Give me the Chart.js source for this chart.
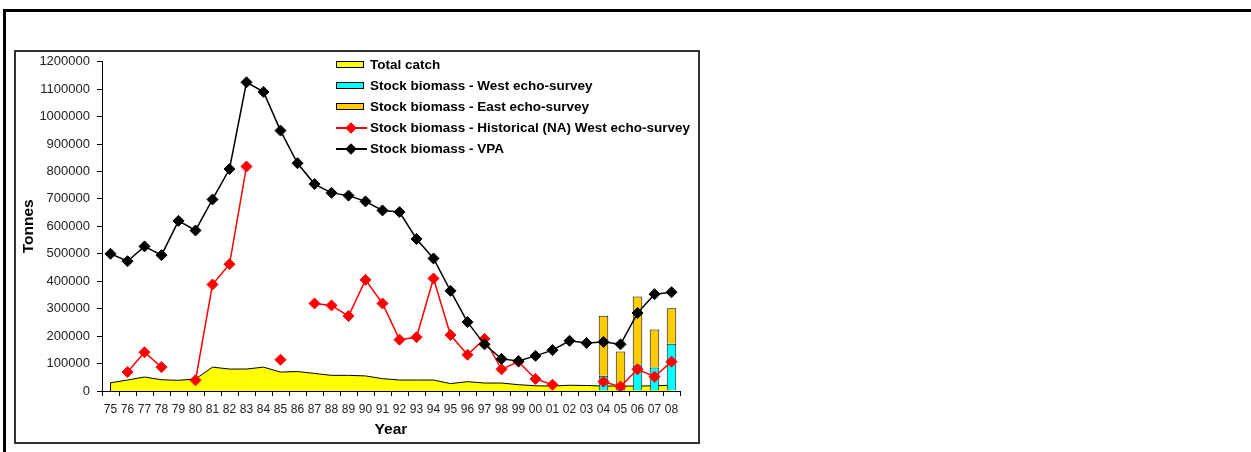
<!DOCTYPE html>
<html>
<head>
<meta charset="utf-8">
<script src="https://cdn.jsdelivr.net/npm/chart.js@4.4.1/dist/chart.umd.min.js"></script>
<style>
  html, body { margin: 0; padding: 0; background: #fff; width: 1251px; height: 452px; overflow: hidden; }
  body { position: relative; font-family: "Liberation Sans", Arial, sans-serif; }
  #frameTop { position: absolute; left: 3px; top: 9px; width: 1248px; height: 3px; background: #000; }
  #frameLeft { position: absolute; left: 3px; top: 9px; width: 3px; height: 443px; background: #000; }
  #box { position: absolute; left: 14px; top: 50px; width: 682px; height: 390px; border: 2px solid #333; }
  #wrap { position: absolute; left: 0; top: 0; width: 682px; height: 390px; }
  #legend { position: absolute; left: 318px; top: 3px; font-weight: bold; font-size: 13.5px; color: #000; }
  .row { position: absolute; left: 0; height: 20px; white-space: nowrap; }
  .sw { position: absolute; left: 2px; }
  .txt { position: absolute; left: 36px; top: 0; line-height: 20px; }
</style>
</head>
<body>
<div id="frameTop"></div>
<div id="frameLeft"></div>
<div id="box">
  <div id="wrap"><canvas id="c"></canvas></div>
  <div id="legend"></div>
</div>
<script>
const years = ['75','76','77','78','79','80','81','82','83','84','85','86','87','88','89','90','91','92','93','94','95','96','97','98','99','00','01','02','03','04','05','06','07','08'];

const totalCatch = [30000,40000,51000,41000,39000,44000,87000,80000,80000,87000,69000,71000,64000,57000,57000,55000,45000,40000,40000,40000,27000,34000,29000,29000,23000,19000,18000,21000,20000,18000,18000,18000,19000,21000];

const westSurvey = [null,null,null,null,null,null,null,null,null,null,null,null,null,null,null,null,null,null,null,null,null,null,null,null,null,null,null,null,null,56000,28000,97000,86000,172000];

const eastSurvey = [null,null,null,null,null,null,null,null,null,null,null,null,null,null,null,null,null,null,null,null,null,null,null,null,null,null,null,null,null,218000,116000,247000,138000,130000];

const historicalWest = [null,69000,141000,87000,null,39000,388000,462000,818000,null,114000,null,319000,312000,273000,405000,319000,187000,196000,410000,204000,132000,190000,79000,107000,44000,23000,null,null,34000,16000,79000,52000,107000];

const vpa = [500000,473000,527000,495000,620000,585000,698000,809000,1125000,1090000,949000,830000,754000,722000,712000,691000,658000,652000,554000,483000,365000,251000,170000,117000,109000,128000,149000,183000,175000,179000,170000,284000,353000,360000];

const yTicks = [0,100000,200000,300000,400000,500000,600000,700000,800000,900000,1000000,1100000,1200000];

const FONT = '"Liberation Sans", Arial, sans-serif';

const datasets = [
  { type: 'line', label: 'Total catch', data: totalCatch, borderColor: '#000', borderWidth: 1,
    backgroundColor: '#FFFF00', fill: 'origin', pointRadius: 0, tension: 0, order: 3, stack: 'catch' },
  { type: 'bar', label: 'Stock biomass - West echo-survey', data: westSurvey, backgroundColor: '#00FFFF',
    borderColor: '#111', borderWidth: 1, barPercentage: 0.56, categoryPercentage: 1, order: 2, stack: 'survey' },
  { type: 'bar', label: 'Stock biomass - East echo-survey', data: eastSurvey, backgroundColor: '#FFCC00',
    borderColor: '#111', borderWidth: 1, barPercentage: 0.56, categoryPercentage: 1, order: 2, stack: 'survey' },
  { type: 'line', label: 'Stock biomass - Historical (NA) West echo-survey', data: historicalWest,
    borderColor: '#FF0000', borderWidth: 1.5, backgroundColor: '#FF0000', pointStyle: 'rectRot',
    pointRadius: 5.5, pointBorderWidth: 1, pointBorderColor: '#FF0000', pointBackgroundColor: '#FF0000',
    spanGaps: false, fill: false, tension: 0, order: 1, stack: 'hist' },
  { type: 'line', label: 'Stock biomass - VPA', data: vpa, borderColor: '#000', borderWidth: 1.5,
    backgroundColor: '#000', pointStyle: 'rectRot', pointRadius: 5.5, pointBorderWidth: 1,
    pointBorderColor: '#000', pointBackgroundColor: '#000', fill: false, tension: 0, order: 0, stack: 'vpa' }
];

// HTML legend built from dataset definitions
const legend = document.getElementById('legend');
datasets.forEach((ds, i) => {
  const row = document.createElement('div');
  row.className = 'row';
  row.style.top = (i * 21) + 'px';
  const sw = document.createElement('div');
  sw.className = 'sw';
  if (ds.type === 'line' && ds.pointStyle) {
    sw.style.top = '9px'; sw.style.width = '31px'; sw.style.height = '2px';
    sw.style.background = ds.borderColor;
    const d = document.createElement('div');
    d.style.cssText = 'position:absolute;left:11px;top:-3.5px;width:8px;height:8px;transform:rotate(45deg);background:' + ds.borderColor + ';';
    sw.appendChild(d);
  } else {
    sw.style.top = '6px'; sw.style.width = '26px'; sw.style.height = '5px';
    sw.style.background = ds.backgroundColor; sw.style.border = '1px solid #000';
  }
  const t = document.createElement('div');
  t.className = 'txt';
  t.textContent = ds.label;
  row.appendChild(sw); row.appendChild(t);
  legend.appendChild(row);
});

// outline the left edge of the catch area as in the reference
const areaEdge = {
  id: 'areaEdge',
  afterDatasetsDraw(chart) {
    const meta = chart.getDatasetMeta(0);
    const p = meta.data[0];
    if (!p) return;
    const ctx = chart.ctx;
    ctx.save();
    ctx.strokeStyle = '#000'; ctx.lineWidth = 1;
    ctx.beginPath(); ctx.moveTo(p.x, p.y); ctx.lineTo(p.x, chart.scales.y.getPixelForValue(0)); ctx.stroke();
    ctx.restore();
  }
};

new Chart(document.getElementById('c'), {
  type: 'bar',
  data: { labels: years, datasets: datasets },
  plugins: [areaEdge],
  options: {
    responsive: true,
    maintainAspectRatio: false,
    animation: false,
    layout: { padding: { left: 0, right: 18, top: 9.7, bottom: 0 } },
    plugins: { legend: { display: false }, tooltip: { enabled: false } },
    scales: {
      x: {
        stacked: true,
        offset: true,
        grid: { offset: true, drawOnChartArea: false, drawTicks: true, tickLength: 5, color: '#000', lineWidth: 1 },
        border: { display: true, color: '#000', width: 1 },
        ticks: { autoSkip: false, maxRotation: 0, minRotation: 0, padding: 6, color: '#222',
          font: { family: FONT, size: 12 } },
        title: { display: true, text: 'Year', color: '#000', padding: { top: 0, bottom: 3 },
          font: { family: FONT, size: 15.5, weight: 'bold' } },
        afterFit: (s) => { s.height = 51; s.paddingLeft = 0; s.paddingRight = 0; }
      },
      y: {
        stacked: true,
        min: 0, max: 1200000,
        afterBuildTicks: (s) => { s.ticks = yTicks.map(v => ({ value: v })); },
        grid: { drawOnChartArea: false, drawTicks: true, tickLength: 5, color: '#000', lineWidth: 1 },
        border: { display: true, color: '#000', width: 1 },
        ticks: { padding: 7, color: '#222', font: { family: FONT, size: 13 },
          callback: (v) => String(v) },
        title: { display: true, text: 'Tonnes', color: '#000', padding: { top: 3, bottom: 0 },
          font: { family: FONT, size: 15.5, weight: 'bold' } },
        afterFit: (s) => { s.width = 86; s.paddingTop = 0; s.paddingBottom = 0; }
      }
    }
  }
});
</script>
</body>
</html>
